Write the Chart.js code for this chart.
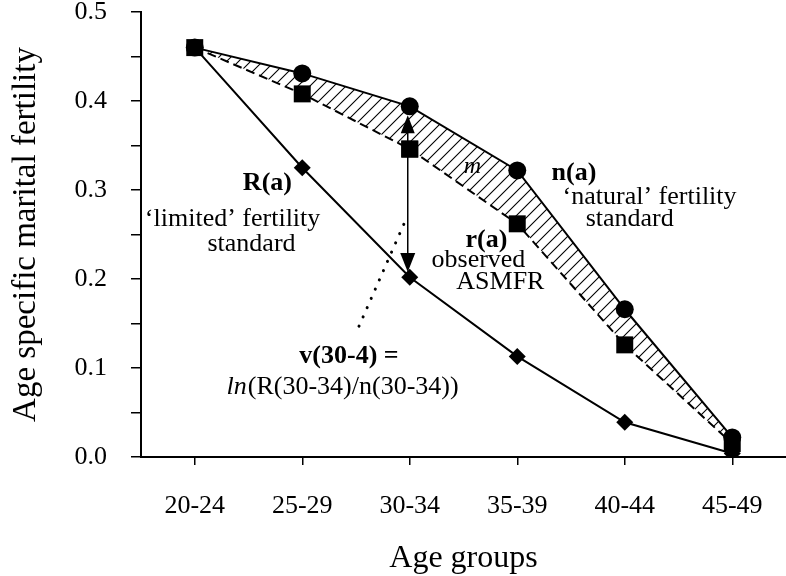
<!DOCTYPE html>
<html>
<head>
<meta charset="utf-8">
<script src="https://cdn.jsdelivr.net/npm/chart.js@4.4.1/dist/chart.umd.min.js"></script>
<style>
  html, body { margin: 0; padding: 0; background: #fff; }
  #wrap { width: 786px; height: 576px; }
</style>
</head>
<body>
<div id="wrap"><canvas id="chart" width="786" height="576"></canvas></div>
<script>
// values
const ageGroups = ['20-24', '25-29', '30-34', '35-39', '40-44', '45-49'];
const naturalStd = [0.46, 0.431, 0.394, 0.322, 0.166, 0.022];   // n(a)
const observed   = [0.46, 0.408, 0.346, 0.262, 0.126, 0.015];   // r(a)
const limitedStd = [0.46, 0.325, 0.202, 0.113, 0.039, 0.004];   // R(a)

// arrow at 30-34 between n(a) and R(a)
const arrowGroup = 2;
const arrowTop = 0.384;
const arrowBottom = 0.208;

// annotation text, placed in axis units (category index, value)
const serif = '"Liberation Serif", "Times New Roman", serif';
const notes = [
  { text: 'R(a)', x: 0.676, y: 0.308, font: 'bold 26px ' + serif },
  { text: '\u2018limited\u2019 fertility', x: 0.352, y: 0.267, font: '26px ' + serif },
  { text: 'standard', x: 0.528, y: 0.239, font: '26px ' + serif },
  { text: 'n(a)', x: 3.528, y: 0.319, font: 'bold 26px ' + serif },
  { text: '\u2018natural\u2019 fertility', x: 4.231, y: 0.292, font: '26px ' + serif },
  { text: 'standard', x: 4.046, y: 0.267, font: '26px ' + serif },
  { text: 'r(a)', x: 2.713, y: 0.244, font: 'bold 26px ' + serif },
  { text: 'observed', x: 2.639, y: 0.221, font: '26px ' + serif },
  { text: 'ASMFR', x: 2.843, y: 0.196, font: '26px ' + serif },
  { text: 'm', x: 2.583, y: 0.326, font: 'italic 24px ' + serif },
  { text: 'v(30-4) =', x: 1.435, y: 0.113, font: 'bold 26px ' + serif }
];
const formula = { x: 0.296, y: 0.078 };
const leader = [[1.528, 0.147], [1.954, 0.264]];

function hatch() {
  const c = document.createElement('canvas');
  c.width = 12; c.height = 12;
  const g = c.getContext('2d');
  g.strokeStyle = '#000';
  g.lineWidth = 1.1;
  g.beginPath();
  g.moveTo(-1, 13); g.lineTo(13, -1);
  g.moveTo(-2, 2); g.lineTo(2, -2);
  g.moveTo(10, 14); g.lineTo(14, 10);
  g.stroke();
  return g.createPattern(c, 'repeat');
}

const annotations = {
  id: 'annotations',
  afterDatasetsDraw(chart) {
    const ctx = chart.ctx;
    const xs = chart.scales.x, ys = chart.scales.y;
    ctx.save();
    ctx.fillStyle = '#000';
    ctx.strokeStyle = '#000';

    // dotted leader
    ctx.lineWidth = 3;
    ctx.lineCap = 'round';
    ctx.setLineDash([0.1, 10]);
    ctx.beginPath();
    ctx.moveTo(xs.getPixelForValue(leader[0][0]), ys.getPixelForValue(leader[0][1]));
    ctx.lineTo(xs.getPixelForValue(leader[1][0]), ys.getPixelForValue(leader[1][1]));
    ctx.stroke();
    ctx.setLineDash([]);
    ctx.lineCap = 'butt';

    // arrow
    const ax = xs.getPixelForValue(arrowGroup) - 2;
    const yt = ys.getPixelForValue(arrowTop);
    const yb = ys.getPixelForValue(arrowBottom);
    ctx.lineWidth = 1.5;
    ctx.beginPath();
    ctx.moveTo(ax, yt + 10);
    ctx.lineTo(ax, yb - 10);
    ctx.stroke();
    ctx.beginPath();
    ctx.moveTo(ax, yt); ctx.lineTo(ax - 7, yt + 18); ctx.lineTo(ax + 7, yt + 18); ctx.closePath();
    ctx.fill();
    ctx.beginPath();
    ctx.moveTo(ax, yb); ctx.lineTo(ax - 7.5, yb - 19); ctx.lineTo(ax + 7.5, yb - 19); ctx.closePath();
    ctx.fill();

    // redraw the observed square at 30-34 over the arrow line
    const meta = chart.getDatasetMeta(1);
    meta.data[arrowGroup].draw(ctx, chart.chartArea);

    // labels
    ctx.textAlign = 'center';
    ctx.textBaseline = 'middle';
    notes.forEach(n => {
      ctx.font = n.font;
      ctx.fillText(n.text, xs.getPixelForValue(n.x), ys.getPixelForValue(n.y));
    });

    // ln(R(30-34)/n(30-34))
    ctx.textAlign = 'left';
    let fx = xs.getPixelForValue(formula.x);
    const fy = ys.getPixelForValue(formula.y);
    ctx.font = 'italic 26px ' + serif;
    ctx.fillText('ln', fx, fy);
    fx += ctx.measureText('ln').width + 1;
    ctx.font = '26px ' + serif;
    ctx.fillText('(R(30-34)/n(30-34))', fx, fy);
    ctx.restore();
  }
};

new Chart(document.getElementById('chart'), {
  type: 'line',
  data: {
    labels: ageGroups,
    datasets: [
      {
        label: 'n(a)',
        data: naturalStd,
        borderColor: '#000',
        borderWidth: 2,
        backgroundColor: hatch(),
        fill: '+1',
        pointStyle: 'circle',
        pointRadius: 9,
        pointBackgroundColor: '#000',
        pointBorderColor: '#000',
        pointBorderWidth: 0,
        order: 2
      },
      {
        label: 'r(a)',
        data: observed,
        borderColor: '#000',
        borderWidth: 2,
        borderDash: [9, 5],
        fill: false,
        pointStyle: 'rect',
        pointRadius: 12,
        pointBackgroundColor: '#000',
        pointBorderColor: '#000',
        pointBorderWidth: 0,
        order: 1
      },
      {
        label: 'R(a)',
        data: limitedStd,
        borderColor: '#000',
        borderWidth: 2,
        fill: false,
        pointStyle: 'rectRot',
        pointRadius: 8.5,
        pointBackgroundColor: '#000',
        pointBorderColor: '#000',
        pointBorderWidth: 0,
        order: 3
      }
    ]
  },
  options: {
    responsive: false,
    animation: false,
    layout: { autoPadding: false, padding: { top: 12, right: 0, left: 0, bottom: 0 } },
    plugins: { legend: { display: false }, tooltip: { enabled: false } },
    scales: {
      x: {
        offset: true,
        grid: { offset: false, drawOnChartArea: false, drawTicks: true, tickLength: 8, color: '#000', lineWidth: 1.5 },
        border: { display: true, color: '#000', width: 2 },
        ticks: { color: '#000', padding: 26, maxRotation: 0, font: { family: serif, size: 26 } },
        title: {
          display: true, text: 'Age groups', color: '#000',
          font: { family: serif, size: 32, lineHeight: 1.1 }, padding: { top: 0, bottom: 0 }
        },
        afterFit(scale) {
          scale.height = 119;
          scale.paddingLeft = 0;
          scale.paddingRight = 0;
        }
      },
      y: {
        min: 0, max: 0.5,
        grid: { drawOnChartArea: false, drawTicks: true, tickLength: 10, color: '#000', lineWidth: 1.5 },
        border: { display: true, color: '#000', width: 2 },
        ticks: {
          stepSize: 0.05, autoSkip: false, color: '#000', padding: 24,
          font: { family: serif, size: 26 },
          callback(v) {
            const t = Math.round(v * 100);
            return t % 10 === 0 ? (t / 100).toFixed(1) : '';
          }
        },
        title: {
          display: true, text: 'Age specific marital fertility', color: '#000',
          font: { family: serif, size: 33, lineHeight: 1.1 }, padding: { top: 8, bottom: 0 }
        },
        afterFit(scale) {
          scale.width = 141;
          scale.paddingTop = 0;
          scale.paddingBottom = 0;
        }
      }
    }
  },
  plugins: [annotations]
});
</script>
</body>
</html>
